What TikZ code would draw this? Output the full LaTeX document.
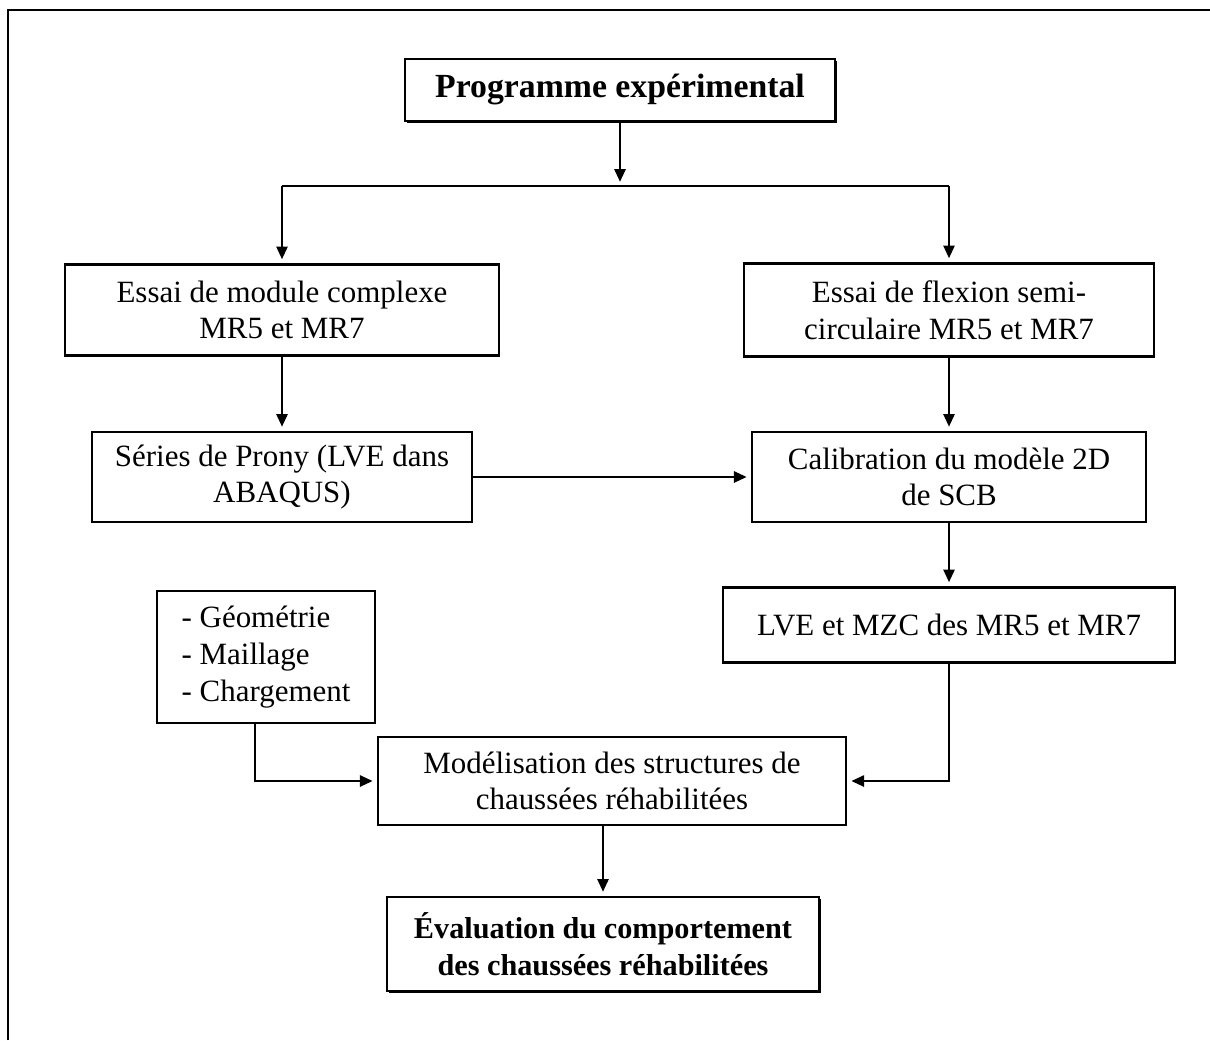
\documentclass[tikz,border=0pt]{standalone}
\usepackage{fontspec}
\setmainfont{Liberation Serif}
\usetikzlibrary{positioning, arrows.meta, shadows}

\begin{document}
\begin{tikzpicture}[
    x=0.01cm, y=-0.01cm,
    every node/.style={font=\fontsize{8.8}{10.4}\selectfont},
    boite/.style={draw, line width=0.6pt, align=center, inner sep=0pt, fill=white},
    boiteG/.style={boite, font=\fontsize{9.6}{11.4}\selectfont\bfseries,
        drop shadow={shadow xshift=0.55pt, shadow yshift=-0.55pt, opacity=1, fill=black}},
    fleche/.style={-{Triangle[length=3.6pt, width=3.2pt]}, line width=0.55pt, shorten >=1.2pt},
    lien/.style={line width=0.55pt},
    cadre/.style={line width=0.35pt},
]
\useasboundingbox (0,0) rectangle (1210,1040);
\draw[cadre] (8,1040) -- (8,10) -- (1210,10);
% Titre
\node[boiteG, minimum width=4.30cm, minimum height=0.62cm] (titre) at (620,90) {Programme expérimental};
% Deux essais
\node[boite, minimum width=4.34cm, minimum height=0.91cm] (module)  at (282,310) {Essai de module complexe\\MR5 et MR7};
\node[boite, minimum width=4.10cm, minimum height=0.93cm] (flexion) at (949,310) {Essai de flexion semi-\\circulaire MR5 et MR7};
\node[boite, minimum width=3.80cm, minimum height=0.90cm] (prony)   at (282,477) {Séries de Prony (LVE dans\\ABAQUS)};
\node[boite, minimum width=3.94cm, minimum height=0.90cm] (calib)   at (949,477) {Calibration du modèle 2D\\de SCB};
\node[boite, minimum width=4.52cm, minimum height=0.75cm] (lve)     at (949,625) {LVE et MZC des MR5 et MR7};
% Modelisation
\node[boite, align=left, minimum width=2.17cm, minimum height=1.32cm] (geom) at (266,657) {- Géométrie\\- Maillage\\- Chargement};
\node[boite, minimum width=4.68cm, minimum height=0.88cm] (model) at (612,781) {Modélisation des structures de\\chaussées réhabilitées};
\node[boiteG, font=\fontsize{8.6}{10.6}\selectfont\bfseries, minimum width=4.32cm, minimum height=0.94cm] (eval) at (603,944) {Évaluation du comportement\\des chaussées réhabilitées};
% Embranchement
\coordinate (embr)  at (620,186);
\coordinate (embrG) at (282,186);
\coordinate (embrD) at (949,186);
% Liens
\draw[fleche] (titre.south) -- (embr);
\draw[lien] (embrG) -- (embrD);
\draw[fleche] (embrG) -- (module.north);
\draw[fleche] (embrD) -- (flexion.north);
\draw[fleche] (module.south) -- (prony.north);
\draw[fleche] (flexion.south) -- (calib.north);
\draw[fleche] (prony.east) -- (calib.west);
\draw[fleche] (calib.south) -- (lve.north);
\draw[fleche] ([xshift=-0.11cm]geom.south) |- (model.west);
\draw[fleche] (lve.south) |- (model.east);
\draw[fleche] (model.south -| eval.north) -- (eval.north);
\end{tikzpicture}
\end{document}
